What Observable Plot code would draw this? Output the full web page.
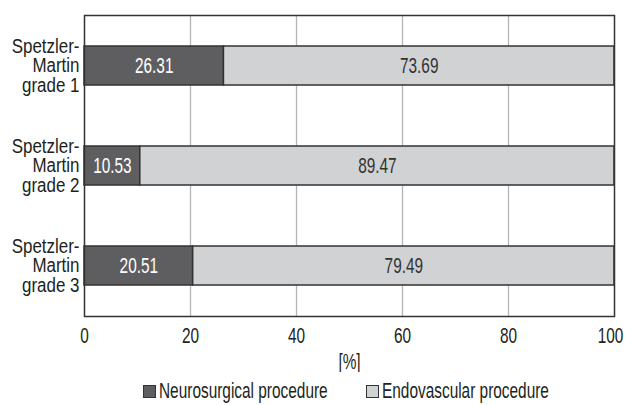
<!DOCTYPE html>
<html><head><meta charset="utf-8">
<script src="https://cdn.jsdelivr.net/npm/d3@7"></script>
<script src="https://cdn.jsdelivr.net/npm/@observablehq/plot@0.6"></script>
<style>
body{margin:0;background:#fff;font-family:"Liberation Sans",Arial,sans-serif;}
#legend{position:relative;height:30px;font-size:22px;line-height:22px;color:#231f20;margin-top:8px;}
.it{position:absolute;top:0;display:flex;align-items:center;white-space:nowrap;}
.sw{width:13px;height:13px;border:1.3px solid #333;box-sizing:border-box;margin-right:3px;}
.tx{display:inline-block;transform:scaleX(0.7);transform-origin:left center;}
</style></head>
<body><div id="chart"></div><div id="legend"></div>
<script>
const grades = ["Spetzler-\nMartin\ngrade 1","Spetzler-\nMartin\ngrade 2","Spetzler-\nMartin\ngrade 3"];
const types = ["Neurosurgical procedure","Endovascular procedure"];
const neuro = [26.31, 10.53, 20.51];
const endo = [73.69, 89.47, 79.49];
const colors = ["#5e5e60","#d1d2d4"];
const textColors = ["#ffffff","#333333"];
const xTicks = [0,20,40,60,80,100];
const SX = 0.7, SY = 0.87;

const data = [];
grades.forEach((g,i)=>{
  data.push({grade:g,type:types[0],value:neuro[i]});
  data.push({grade:g,type:types[1],value:endo[i]});
});
const plot = Plot.plot({
  width:625, height:372,
  marginLeft:84, marginRight:11, marginTop:15, marginBottom:56,
  style:{fontFamily:'"Liberation Sans",Arial,sans-serif',fontSize:"22px",color:"#231f20",background:"#fff"},
  x:{domain:[0,100],ticks:xTicks,label:null},
  y:{domain:grades,paddingInner:0.61,paddingOuter:0.305,label:null},
  color:{domain:types,range:colors},
  marks:[
    Plot.gridX(xTicks.slice(1,-1),{stroke:"#b5b5b5",strokeOpacity:1,strokeWidth:1.3}),
    Plot.barX(data,{x:"value",y:"grade",fill:"type",stroke:"#333",strokeWidth:1.5}),
    Plot.textX(data,Plot.stackX({x:"value",y:"grade",z:"type",text:d=>d.value.toFixed(2),fill:d=>textColors[types.indexOf(d.type)],fontSize:22})),
    Plot.frame({stroke:"#333",strokeWidth:1.5}),
    Plot.axisX(xTicks.slice(0,-1),{tickSize:0,tickPadding:11,fontSize:22,label:null}),
    Plot.axisX(xTicks.slice(-1),{tickSize:0,tickPadding:11,fontSize:22,label:null,dx:-4}),
    Plot.text(["[%]"],{frameAnchor:"bottom",lineAnchor:"middle",dy:45,fontSize:22,fill:"#231f20"}),
    Plot.axisY({tickSize:0,tickPadding:5,fontSize:19.5,lineHeight:1,label:null})
  ]
});
// condense texts horizontally around their anchor
plot.querySelectorAll("text").forEach(t=>{
  const s = t.closest('g[aria-label="y-axis tick label"]') ? SY : SX;
  const tr=t.getAttribute("transform")||"";
  const x=+(t.getAttribute("x")||0);
  t.setAttribute("transform",`${tr} translate(${x},0) scale(${s},1) translate(${-x},0)`);
});
document.getElementById("chart").appendChild(plot);
const lg=document.getElementById("legend");
const lefts=[143,366];
types.forEach((t,i)=>{
  const it=document.createElement("div");it.className="it";it.style.left=lefts[i]+"px";
  const sw=document.createElement("div");sw.className="sw";sw.style.background=colors[i];
  const tx=document.createElement("span");tx.className="tx";tx.textContent=t;
  it.appendChild(sw);it.appendChild(tx);lg.appendChild(it);
  tx.style.marginRight=(-(1-SX)*tx.offsetWidth)+"px";
});
</script></body></html>
